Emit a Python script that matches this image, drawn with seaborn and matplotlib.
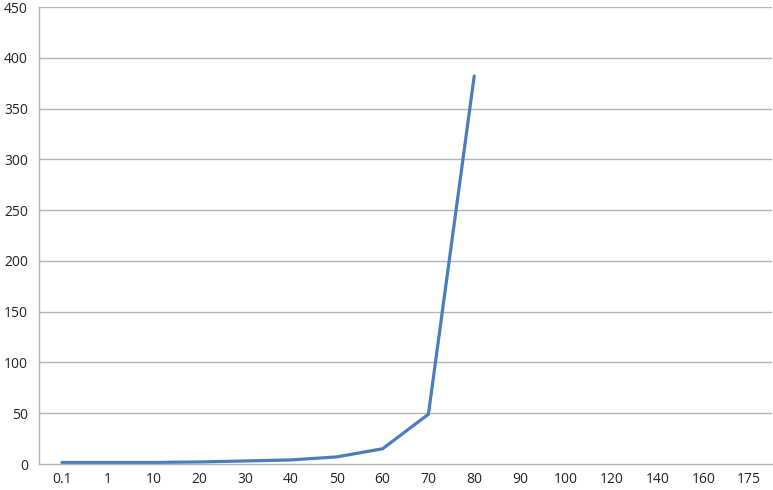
import numpy as np
import pandas as pd
import matplotlib
matplotlib.use("Agg")
import matplotlib.pyplot as plt
import seaborn as sns

# category labels along the x axis
categories = ["0.1", "1", "10", "20", "30", "40", "50", "60",
              "70", "80", "90", "100", "120", "140", "160", "175"]
# series values (only the first ten categories have data)
values = [1.5, 1.5, 1.5, 2, 3, 4, 7, 15, 49, 382,
          np.nan, np.nan, np.nan, np.nan, np.nan, np.nan]
y_ticks = [0, 50, 100, 150, 200, 250, 300, 350, 400, 450]

df = pd.DataFrame({"pos": np.arange(len(categories)), "value": values})

sns.set_style("white")
plt.rcParams["font.family"] = ["Open Sans", "DejaVu Sans"]

fig = plt.figure(figsize=(7.73, 4.90), dpi=100)
ax = fig.add_axes([39 / 773, 26 / 490, 733 / 773, 457 / 490])

grid_col = "#b3b3b3"
for yv in y_ticks[1:]:
    ax.axhline(yv, color=grid_col, lw=1, zorder=0)

sns.lineplot(data=df.dropna(), x="pos", y="value", ax=ax,
             color="#4a7ebb", lw=2.3, sort=False)

ax.set_xlim(-0.5, len(categories) - 0.5)
ax.set_ylim(0, 450)
ax.set_yticks(y_ticks)
ax.set_yticklabels([str(v) for v in y_ticks], fontsize=10, color="#222222")
ax.set_xticks(np.arange(len(categories)))
ax.set_xticklabels(categories, fontsize=10, color="#222222")
ax.set_xticks(np.arange(len(categories) + 1) - 0.5, minor=True)
ax.tick_params(axis="x", which="major", length=0, pad=6)
ax.tick_params(axis="x", which="minor", length=5, color=grid_col, direction="out")
ax.tick_params(axis="y", length=5, color=grid_col, direction="out", pad=3)
ax.set_xlabel("")
ax.set_ylabel("")

for side in ["top", "right"]:
    ax.spines[side].set_visible(False)
for side in ["left", "bottom"]:
    ax.spines[side].set_color(grid_col)
    ax.spines[side].set_linewidth(1)

fig.savefig("out.png", dpi=100)
